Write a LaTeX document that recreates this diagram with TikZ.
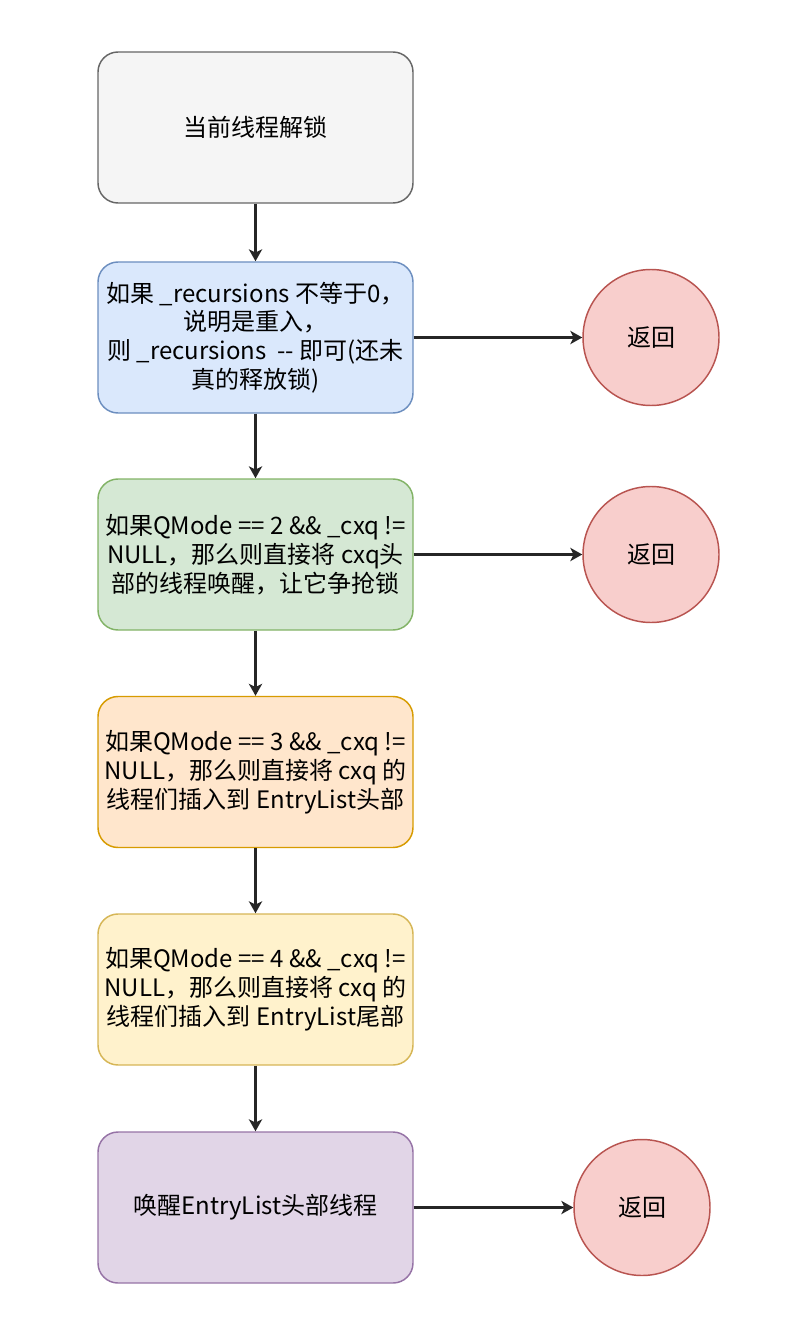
\documentclass[tikz,border=0pt]{standalone}
\usepackage{fontspec}
\setmainfont{Noto Sans CJK SC}
\usetikzlibrary{arrows.meta}
\definecolor{grayfill}{HTML}{F5F5F5}
\definecolor{graydraw}{HTML}{666666}
\definecolor{bluefill}{HTML}{DAE8FC}
\definecolor{bluedraw}{HTML}{6C8EBF}
\definecolor{greenfill}{HTML}{D5E8D4}
\definecolor{greendraw}{HTML}{82B366}
\definecolor{orangefill}{HTML}{FFE6CC}
\definecolor{orangedraw}{HTML}{D79B00}
\definecolor{yellowfill}{HTML}{FFF2CC}
\definecolor{yellowdraw}{HTML}{D6B656}
\definecolor{purplefill}{HTML}{E1D5E7}
\definecolor{purpledraw}{HTML}{9673A6}
\definecolor{retfill}{HTML}{F8CECC}
\definecolor{retdraw}{HTML}{B85450}

\begin{document}
\begin{tikzpicture}[x=0.75pt, y=-0.75pt,
  stepbox/.style={draw, rounded corners=15pt, line width=1.1pt,
    minimum width=236.25pt, minimum height=113.25pt, inner sep=2pt,
    align=center, font=\fontsize{18}{21.6}\selectfont},
  retcircle/.style={circle, draw=retdraw, fill=retfill, line width=1.1pt,
    minimum size=102pt, font=\fontsize{18}{21.6}\selectfont},
  flow/.style={-{Stealth[length=9pt, width=10pt, inset=2.5pt]},
    line width=1.6pt, black!85}]

  %% Page frame
  \useasboundingbox (0,0) rectangle (809,1333);

  %% Main column
  \node[stepbox, fill=grayfill, draw=graydraw] (unlock) at (255.5,127.5) {当前线程解锁};
  \node[stepbox, fill=bluefill, draw=bluedraw] (reentry) at (255.5,337.5)
    {如果 \_recursions 不等于0，\\说明是重入，\\则 \_recursions \ -{}- 即可(还未\\真的释放锁)};
  \node[stepbox, fill=greenfill, draw=greendraw] (qmodetwo) at (255.5,554.5)
    {如果QMode == 2 \&\& \_cxq !=\\NULL，那么则直接将 cxq头\\部的线程唤醒，让它争抢锁};
  \node[stepbox, fill=orangefill, draw=orangedraw] (qmodethree) at (255.5,772)
    {如果QMode == 3 \&\& \_cxq !=\\NULL，那么则直接将 cxq 的\\线程们插入到 EntryList头部};
  \node[stepbox, fill=yellowfill, draw=yellowdraw] (qmodefour) at (255.5,989.5)
    {如果QMode == 4 \&\& \_cxq !=\\NULL，那么则直接将 cxq 的\\线程们插入到 EntryList尾部};
  \node[stepbox, fill=purplefill, draw=purpledraw] (wakehead) at (255.5,1207.5)
    {唤醒EntryList头部线程};

  %% Return points
  \node[retcircle] (retA) at (651,337.5) {返回};
  \node[retcircle] (retB) at (651,554.5) {返回};
  \node[retcircle] (retC) at (642,1207.5) {返回};

  %% Flow down the column
  \draw[flow] (unlock) -- (reentry);
  \draw[flow] (reentry) -- (qmodetwo);
  \draw[flow] (qmodetwo) -- (qmodethree);
  \draw[flow] (qmodethree) -- (qmodefour);
  \draw[flow] (qmodefour) -- (wakehead);

  %% Early returns
  \draw[flow] (reentry) -- (retA);
  \draw[flow] (qmodetwo) -- (retB);
  \draw[flow] (wakehead) -- (retC);
\end{tikzpicture}
\end{document}
